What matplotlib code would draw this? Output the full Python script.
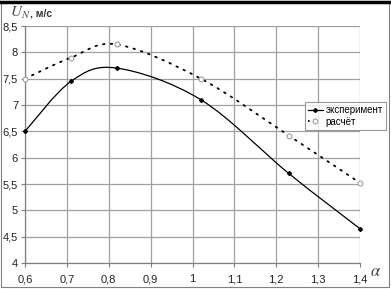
import numpy as np
import matplotlib
matplotlib.use("Agg")
import matplotlib.pyplot as plt
from matplotlib.path import Path
from matplotlib.patches import PathPatch
from matplotlib.lines import Line2D

plt.rcParams['font.family'] = ['Liberation Sans', 'DejaVu Sans']
plt.rcParams['mathtext.fontset'] = 'stix'

alpha = [0.6, 0.71, 0.82, 1.02, 1.23, 1.4]
u_exp = [6.5, 7.45, 7.7, 7.1, 5.7, 4.65]
u_calc = [7.5, 7.9, 8.15, 7.5, 6.42, 5.52]
xticks = [0.6, 0.7, 0.8, 0.9, 1.0, 1.1, 1.2, 1.3, 1.4]
yticks = [4, 4.5, 5, 5.5, 6, 6.5, 7, 7.5, 8, 8.5]


def smooth_path(x, y):
    # excel-like smoothed line: bezier segments through the points
    p = np.column_stack([x, y])
    n = len(p)
    verts = [p[0]]
    codes = [Path.MOVETO]
    for i in range(n - 1):
        p0 = p[i - 1] if i > 0 else p[i]
        p3 = p[i + 2] if i + 2 < n else p[i + 1]
        c1 = p[i] + (p[i + 1] - p0) / 6
        c2 = p[i + 1] - (p3 - p[i]) / 6
        verts += [c1, c2, p[i + 1]]
        codes += [Path.CURVE4] * 3
    return Path(verts, codes)


fig = plt.figure(figsize=(3.91, 2.89), dpi=100)
ax = fig.add_axes([25 / 391, 26 / 289, 335 / 391, 237 / 289])

ax.set_xlim(0.6, 1.4)
ax.set_ylim(4, 8.5)
ax.set_xticks(xticks)
ax.set_yticks(yticks)
ax.set_xticklabels([('%g' % v).replace('.', ',') for v in xticks])
ax.set_yticklabels([('%g' % v).replace('.', ',') for v in yticks])
ax.tick_params(labelsize=8, length=3, width=0.8, color='#808080',
               labelcolor='#222222')
ax.tick_params(axis='x', pad=5)
ax.tick_params(axis='y', pad=2)
ax.grid(True, color='#a0a0a0', linewidth=0.9)
ax.set_axisbelow(True)
for s in ['top', 'right']:
    ax.spines[s].set_visible(False)
for s in ['left', 'bottom']:
    ax.spines[s].set_color('#808080')
    ax.spines[s].set_linewidth(0.9)

dots = (0, (0.9, 3.4))
ax.add_patch(PathPatch(smooth_path(alpha, u_exp), fill=False, edgecolor='black',
                       linewidth=0.9, clip_on=False))
ax.add_patch(PathPatch(smooth_path(alpha, u_calc), fill=False, edgecolor='black',
                       linewidth=1.3, linestyle=dots, capstyle='round',
                       clip_on=False))
ax.plot(alpha, u_exp, linestyle='none', marker='D', markersize=2,
        color='black', clip_on=False, zorder=5)
ax.plot(alpha, u_calc, linestyle='none', marker='o', markersize=3.5,
        markerfacecolor='white', markeredgecolor='#a0a0a0', markeredgewidth=0.8,
        clip_on=False, zorder=5)

handles = [
    Line2D([], [], color='black', linewidth=0.9, marker='D', markersize=2),
    Line2D([], [], color='black', linewidth=1.3, linestyle=dots,
           marker='o', markersize=3.5, markerfacecolor='white',
           markeredgecolor='#a0a0a0', markeredgewidth=0.8),
]
leg = fig.legend(handles, ['эксперимент', 'расчёт'], loc='upper left',
                 bbox_to_anchor=(305 / 391, 1 - 102 / 289), fontsize=7,
                 frameon=True, fancybox=False, handlelength=1.5,
                 handletextpad=0.3, borderpad=0.3, labelspacing=0.2,
                 borderaxespad=0)
leg.get_frame().set_edgecolor('#808080')
leg.get_frame().set_linewidth(0.8)

fig.text(10 / 391, 1 - 17 / 289, r'$U_N$', fontsize=11, color='#444444')
fig.text(30 / 391, 1 - 17 / 289, ', м/с', fontsize=7.5, fontweight='bold',
         color='#333333')
fig.text(370 / 391, 1 - 276 / 289, r'$\alpha$', fontsize=12, color='#444444')

# chart frame
fig.add_artist(plt.Rectangle((1 / 391, 2 / 289), 388 / 391, 285 / 289,
                             fill=False, edgecolor='#808080', linewidth=0.8,
                             transform=fig.transFigure))
fig.add_artist(Line2D([0, 1], [1 - 1.5 / 289, 1 - 1.5 / 289], color='black',
                      linewidth=2.5, transform=fig.transFigure))

fig.savefig('out.png', dpi=100)
